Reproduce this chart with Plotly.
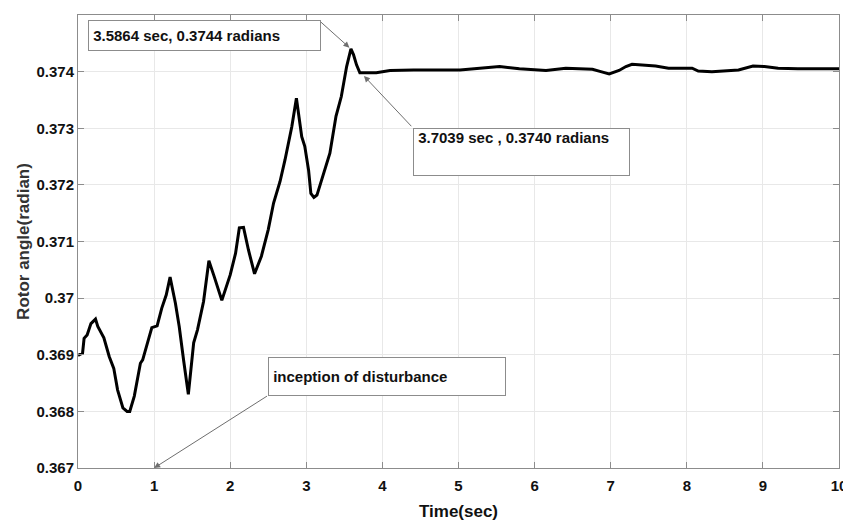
import plotly.graph_objects as go

time_s = [0, 0.06, 0.08, 0.12, 0.17, 0.23, 0.26, 0.34, 0.41, 0.47, 0.52, 0.59, 0.645, 0.68,
          0.74, 0.82, 0.85, 0.91, 0.97, 1.04, 1.10, 1.16, 1.21, 1.28, 1.33, 1.39, 1.45, 1.52,
          1.57, 1.65, 1.72, 1.79, 1.89, 2.00, 2.07, 2.12, 2.175, 2.24, 2.32, 2.41, 2.45, 2.50,
          2.57, 2.655, 2.72, 2.81, 2.87, 2.94, 2.98, 3.03, 3.06, 3.10, 3.14, 3.22, 3.31, 3.39,
          3.46, 3.53, 3.5864, 3.62, 3.66, 3.7039, 3.92, 4.10, 4.41, 5.02, 5.54, 5.80, 6.15,
          6.41, 6.76, 6.87, 6.98, 7.11, 7.20, 7.28, 7.46, 7.59, 7.76, 8.07, 8.15, 8.33, 8.68,
          8.76, 8.87, 9.02, 9.20, 9.46, 10.0]
rotor_angle = [0.36899, 0.36903, 0.36929, 0.36935, 0.36955, 0.36963, 0.36950, 0.36930, 0.36897,
               0.36876, 0.36838, 0.36806, 0.36800, 0.36800, 0.36827, 0.36885, 0.36891, 0.36920,
               0.36948, 0.36951, 0.36982, 0.37006, 0.37037, 0.36991, 0.36950, 0.36888, 0.36830,
               0.36921, 0.36944, 0.36994, 0.37066, 0.37038, 0.36996, 0.37041, 0.37079, 0.37124,
               0.37125, 0.37085, 0.37043, 0.37074, 0.37093, 0.37121, 0.37168, 0.37206, 0.37244,
               0.37303, 0.37353, 0.37285, 0.37268, 0.37226, 0.37185, 0.37178, 0.37182, 0.37215,
               0.37256, 0.37321, 0.37356, 0.37409, 0.37440, 0.37430, 0.37412, 0.37398, 0.37398,
               0.37402, 0.37403, 0.37403, 0.37409, 0.37405, 0.37402, 0.37406, 0.37404, 0.37400,
               0.37396, 0.37402, 0.37409, 0.37413, 0.37411, 0.37410, 0.37406, 0.37406, 0.37401,
               0.37400, 0.37403, 0.37406, 0.37410, 0.37409, 0.37406, 0.37405, 0.37405]

x_ticks = [0, 1, 2, 3, 4, 5, 6, 7, 8, 9, 10]
x_tick_labels = ["0", "1", "2", "3", "4", "5", "6", "7", "8", "9", "10"]
y_ticks = [0.367, 0.368, 0.369, 0.370, 0.371, 0.372, 0.373, 0.374, 0.375]
y_tick_labels = ["0.367", "0.368", "0.369", "0.37", "0.371", "0.372", "0.373", "0.374", "0.375"]

peak_point = (3.5864, 0.3744)
settle_point = (3.7039, 0.3740)
inception_point = (1.0, 0.367)

FONT = "Arial, Liberation Sans, sans-serif"

fig = go.Figure()
fig.add_trace(go.Scatter(x=time_s, y=rotor_angle, mode="lines",
                         line=dict(color="black", width=3), showlegend=False))

axis_common = dict(showline=True, linecolor="#8c8c8c", linewidth=1, mirror="ticks",
                   ticks="inside", ticklen=6, tickcolor="#8c8c8c", automargin=False,
                   showgrid=True, gridcolor="#e8e8e8", gridwidth=1, zeroline=False,
                   tickfont=dict(family=FONT, size=15, color="#111111"))

fig.update_xaxes(range=[0, 10], tickvals=x_ticks, ticktext=[f"<b>{t}</b>" for t in x_tick_labels],
                 ticklabelstandoff=4,
                 title=dict(text="<b>Time(sec)</b>", font=dict(family=FONT, size=17, color="#111111"),
                            standoff=12), **axis_common)
fig.update_yaxes(range=[0.367, 0.375], tickvals=y_ticks, ticktext=[f"<b>{t}</b>" for t in y_tick_labels],
                 title=dict(text="<b>Rotor angle(radian)</b>", font=dict(family=FONT, size=17, color="#333333"),
                            standoff=2), **axis_common)

box_common = dict(showarrow=False, xanchor="left", yanchor="top", align="left",
                  bordercolor="#8c8c8c", borderwidth=1, borderpad=0, bgcolor="white",
                  font=dict(family=FONT, size=15, color="#111111"))

# text boxes
fig.add_annotation(x=0.129, y=0.374905, text="<b> 3.5864 sec, 0.3744 radians</b>",
                   width=231, height=29, valign="middle", **box_common)
fig.add_annotation(x=4.399, y=0.373009, text="<b> 3.7039 sec , 0.3740 radians</b><br> ",
                   width=215, height=46, valign="top", **box_common)
fig.add_annotation(x=2.503, y=0.368963, text="<b> inception of disturbance</b>",
                   width=236, height=37, valign="middle", **box_common)

arrow_style = dict(text="", showarrow=True, axref="x", ayref="y", arrowhead=2,
                   arrowsize=1.2, arrowwidth=1, arrowcolor="#6e6e6e")
fig.add_annotation(x=peak_point[0], y=peak_point[1], ax=3.172, ay=0.374899, standoff=2, **arrow_style)
fig.add_annotation(x=settle_point[0], y=settle_point[1], ax=4.399, ay=0.373009, standoff=6, **arrow_style)
fig.add_annotation(x=inception_point[0], y=inception_point[1], ax=2.503, ay=0.368286, standoff=0, **arrow_style)

# page body adds an 8px margin, so the figure is sized/positioned to compensate
fig.update_layout(width=843, height=513, margin=dict(l=70, r=12, t=7, b=53),
                  plot_bgcolor="white", paper_bgcolor="white",
                  font=dict(family=FONT, color="#111111"))

fig.write_html("out.html")
